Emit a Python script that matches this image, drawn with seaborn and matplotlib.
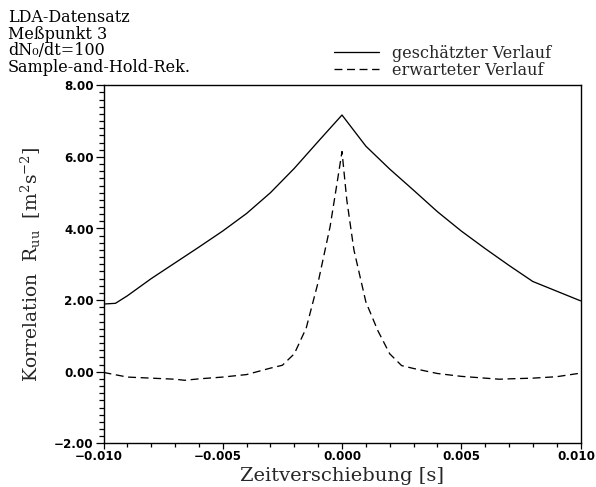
import numpy as np
import pandas as pd
import matplotlib
matplotlib.use("Agg")
import matplotlib.pyplot as plt
import matplotlib.transforms as mtransforms
from matplotlib.font_manager import FontProperties
from matplotlib.lines import Line2D
from matplotlib.ticker import MultipleLocator
import seaborn as sns

# Geschätzter Verlauf (Sample-and-Hold-Rekonstruktion)
tau_est = [-0.0100, -0.0095, -0.0090, -0.0080, -0.0070, -0.0060, -0.0050,
           -0.0040, -0.0030, -0.0020, -0.0010, 0.0000, 0.0010, 0.0020,
           0.0030, 0.0040, 0.0050, 0.0060, 0.0070, 0.0080, 0.0090, 0.0100]
r_est = [1.89, 1.91, 2.12, 2.60, 3.04, 3.48, 3.93,
         4.42, 5.00, 5.68, 6.43, 7.17, 6.30, 5.66,
         5.07, 4.47, 3.93, 3.44, 2.97, 2.52, 2.25, 1.98]

# Erwarteter Verlauf
tau_exp = [-0.0100, -0.0090, -0.0080, -0.0070, -0.0066, -0.0060, -0.0050,
           -0.0040, -0.0030, -0.0025, -0.0020, -0.0015, -0.0010, -0.0005,
           -0.0002, 0.0000, 0.0002, 0.0005, 0.0010, 0.0015, 0.0020, 0.0025,
           0.0030, 0.0040, 0.0050, 0.0060, 0.0066, 0.0070, 0.0080, 0.0090,
           0.0100]
r_exp = [-0.02, -0.15, -0.18, -0.21, -0.24, -0.20, -0.15,
         -0.08, 0.10, 0.18, 0.50, 1.22, 2.50, 4.05,
         5.30, 6.15, 4.80, 3.40, 1.95, 1.15, 0.50, 0.17,
         0.09, -0.05, -0.13, -0.18, -0.21, -0.20, -0.18, -0.14,
         -0.04]

x_ticks = [-0.010, -0.005, 0.000, 0.005, 0.010]
y_ticks = [-2.0, 0.0, 2.0, 4.0, 6.0, 8.0]

header_lines = ["LDA-Datensatz", "Meßpunkt 3", "dN\u2080/dt=100", "Sample-and-Hold-Rek."]
legend_labels = ["geschätzter Verlauf", "erwarteter Verlauf"]

sns.set_theme(style="ticks")
plt.rcParams["font.family"] = ["DejaVu Serif"]
plt.rcParams["mathtext.fontset"] = "dejavuserif"
plt.rcParams["axes.unicode_minus"] = True

fig = plt.figure(figsize=(5.96, 4.87), dpi=100)
ax = fig.add_axes([103.5 / 596, 1 - 443.3 / 487, 477 / 596, 358 / 487])

df_est = pd.DataFrame({"tau": tau_est, "R": r_est})
df_exp = pd.DataFrame({"tau": tau_exp, "R": r_exp})

lw = 0.95
dash = (0, (6.0, 3.5))
sns.lineplot(data=df_est, x="tau", y="R", ax=ax, color="black", lw=lw,
             estimator=None, sort=False)
sns.lineplot(data=df_exp, x="tau", y="R", ax=ax, color="black", lw=lw,
             estimator=None, sort=False, linestyle=dash)

ax.set_xlim(-0.010, 0.010)
ax.set_ylim(-2.0, 8.0)

tick_fp = FontProperties(family="DejaVu Sans", weight="bold", size=8.6)
ax.set_xticks(x_ticks, [f"{v:.3f}".replace("-", "\u2212") for v in x_ticks])
ax.set_yticks(y_ticks, [f"{v:.2f}".replace("-", "\u2212") for v in y_ticks])
for lab in ax.get_xticklabels() + ax.get_yticklabels():
    lab.set_fontproperties(tick_fp)
ax.xaxis.set_minor_locator(MultipleLocator(0.001))
ax.yaxis.set_minor_locator(MultipleLocator(0.2))
ax.tick_params(axis="y", which="major", direction="out", length=6, width=0.9,
               color="black", pad=1.0, labelcolor="black")
ax.tick_params(axis="y", which="minor", direction="out", length=3.6, width=0.9,
               color="black")
ax.tick_params(axis="x", which="major", direction="out", length=4.2, width=0.9,
               color="black", pad=0.5, labelcolor="black")
ax.tick_params(axis="x", which="minor", direction="out", length=3.2, width=0.9,
               color="black")

# negative x labels: digits centred on the tick, the minus hangs to the left
shift_neg = mtransforms.ScaledTranslation(-3.4 / 72, 0, fig.dpi_scale_trans)
shift_end = mtransforms.ScaledTranslation(-3.0 / 72, 0, fig.dpi_scale_trans)
xlabs = ax.get_xticklabels()
for lab in xlabs:
    if lab.get_text().startswith("\u2212"):
        lab.set_transform(lab.get_transform() + shift_neg)
xlabs[-1].set_transform(xlabs[-1].get_transform() + shift_end)

for sp in ax.spines.values():
    sp.set_linewidth(1.0)
    sp.set_color("black")
    sp.set_visible(True)
ax.grid(False)

ax.set_xlabel("Zeitverschiebung [s]", fontsize=14, labelpad=3)
ax.set_ylabel(r"Korrelation  R$_{\rm uu}$  [m$^2$s$^{-2}$]", fontsize=13.5, labelpad=8)

txt_size = 11.5
for i, line in enumerate(header_lines):
    fig.text(8 / 596, 1 - (18 + 16.4 * i) / 487, line, fontsize=txt_size,
             ha="left", va="center", color="black")

handles = [Line2D([], [], color="black", lw=lw),
           Line2D([], [], color="black", lw=lw, linestyle=dash)]
fig.legend(handles, legend_labels, loc="upper left",
           bbox_to_anchor=(334 / 596, 1 - 45 / 487), frameon=False,
           fontsize=txt_size, handlelength=2.8, handletextpad=0.8,
           labelspacing=0.0, borderpad=0, borderaxespad=0)

fig.savefig("out.png", dpi=100, facecolor="white")
